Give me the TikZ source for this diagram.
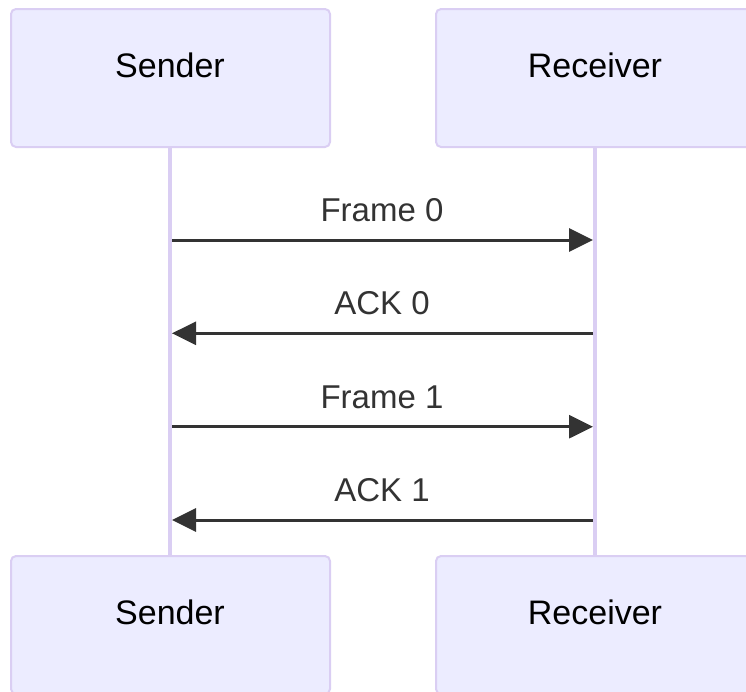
\documentclass[tikz,border=0pt]{standalone}
\usepackage{fontspec}
\setmainfont{Liberation Sans}
\usetikzlibrary{arrows.meta}
\definecolor{actorfill}{HTML}{ECECFF}
\definecolor{actorline}{HTML}{DACEF3}
\definecolor{msgcol}{HTML}{333333}
\tikzset{
  actor/.style={draw=actorline, fill=actorfill, line width=2pt, rounded corners=5pt,
    minimum width=319pt, minimum height=138pt, inner sep=0pt, anchor=north west},
  actortext/.style={anchor=base, text=black, font=\fontsize{34}{40}\selectfont},
  lifeline/.style={draw=actorline, line width=4pt},
  msg/.style={draw=msgcol, line width=3pt, -{Triangle[length=24pt,width=23pt]}},
  msgtext/.style={anchor=base, text=msgcol, font=\fontsize{33}{40}\selectfont},
}
\begin{document}
\begin{tikzpicture}[x=1pt, y=-1pt]
  \useasboundingbox (0,0) rectangle (746,691);
  \clip (0,0) rectangle (746,691);

  % lifeline ends
  \coordinate (sTop) at (169.7,146);
  \coordinate (sBot) at (169.7,555);
  \coordinate (rTop) at (595,146);
  \coordinate (rBot) at (595,555);
  \draw[lifeline] (sTop) -- (sBot);
  \draw[lifeline] (rTop) -- (rBot);

  % participants, top and bottom
  \node[actor] (senderTop) at (10,8) {};
  \node[actor] (receiverTop) at (435,8) {};
  \node[actor] (senderBot) at (10,555) {};
  \node[actor] (receiverBot) at (435,555) {};
  \node[actortext] (senderTopLbl) at (170,77) {Sender};
  \node[actortext] (receiverTopLbl) at (595,77) {Receiver};
  \node[actortext] (senderBotLbl) at (170,624) {Sender};
  \node[actortext] (receiverBotLbl) at (595,624) {Receiver};

  % message anchor points on the lifelines
  \foreach \i/\y in {1/240, 2/333.3, 3/426.7, 4/520} {
    \coordinate (s\i) at (172,\y);
    \coordinate (r\i) at (593,\y);
  }

  % messages
  \draw[msg] (s1) -- (r1);
  \node[msgtext] (m1) at (382,221.5) {Frame 0};
  \draw[msg] (r2) -- (s2);
  \node[msgtext] (m2) at (382,314.8) {ACK 0};
  \draw[msg] (s3) -- (r3);
  \node[msgtext] (m3) at (382,408.2) {Frame 1};
  \draw[msg] (r4) -- (s4);
  \node[msgtext] (m4) at (382,501.5) {ACK 1};
\end{tikzpicture}
\end{document}
